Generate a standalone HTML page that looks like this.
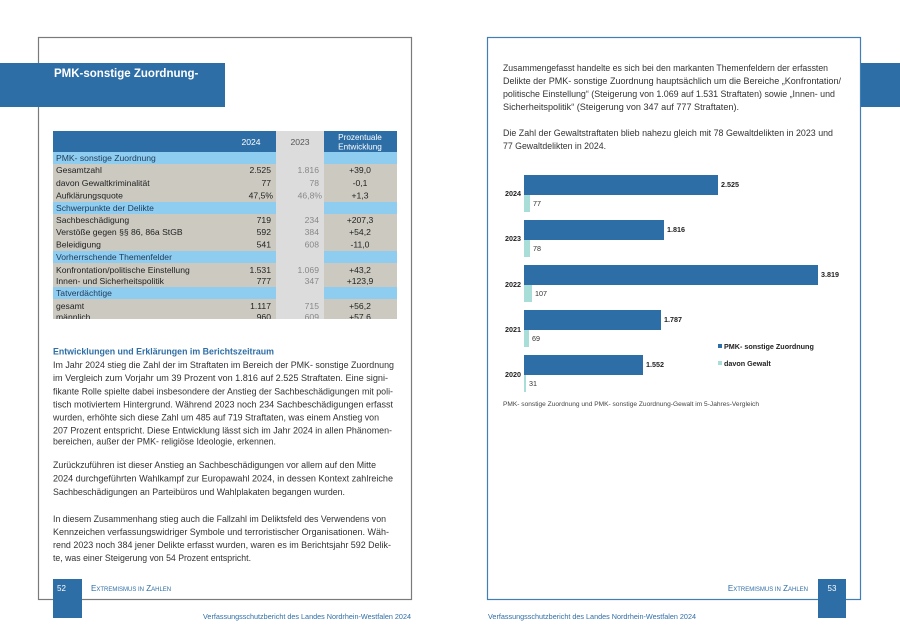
<!DOCTYPE html>
<html><head><meta charset="utf-8"><style>
html,body{margin:0;padding:0;background:#fff}
svg{display:block}
text{font-family:"Liberation Sans",sans-serif}
</style></head><body>
<svg width="900" height="638" viewBox="0 0 900 638" xmlns="http://www.w3.org/2000/svg">
<rect width="900" height="638" fill="#fff"/>
<!-- left frame -->
<rect x="38.5" y="37.5" width="373" height="562" fill="none" stroke="#7a7a7a" stroke-width="1.2"/>
<rect x="0" y="63" width="225" height="44" fill="#2e6ea6"/>
<text x="54" y="77" font-size="11.5" font-weight="bold" fill="#fff">PMK-sonstige Zuordnung-</text>
<!-- right frame -->
<rect x="487.5" y="37.5" width="373" height="562" fill="none" stroke="#3f7fb5" stroke-width="1.2"/>
<rect x="861" y="63" width="39" height="44" fill="#2e6ea6"/>

<!-- table -->
<g font-size="8.6" fill="#222">
<rect x="53" y="131" width="344" height="188" fill="#cbc9c0"/>
<rect x="53" y="131" width="344" height="21" fill="#2e6ea6"/>
<rect x="276" y="131" width="48" height="188" fill="#dcdcdc"/>
<rect x="53" y="152" width="223" height="12" fill="#8ecdf0"/><rect x="324" y="152" width="73" height="12" fill="#8ecdf0"/>
<rect x="53" y="202" width="223" height="12" fill="#8ecdf0"/><rect x="324" y="202" width="73" height="12" fill="#8ecdf0"/>
<rect x="53" y="251" width="223" height="12" fill="#8ecdf0"/><rect x="324" y="251" width="73" height="12" fill="#8ecdf0"/>
<rect x="53" y="287" width="223" height="12" fill="#8ecdf0"/><rect x="324" y="287" width="73" height="12" fill="#8ecdf0"/>
<text x="251" y="145" fill="#fff" text-anchor="middle">2024</text>
<text x="300" y="145" fill="#555" text-anchor="middle">2023</text>
<text x="360" y="140" fill="#fff" text-anchor="middle" font-size="8.2">Prozentuale</text>
<text x="360" y="149.5" fill="#fff" text-anchor="middle" font-size="8.2">Entwicklung</text>
<g fill="#1e3a5a">
<text x="56" y="161">PMK- sonstige Zuordnung</text>
<text x="56" y="211">Schwerpunkte der Delikte</text>
<text x="56" y="260">Vorherrschende Themenfelder</text>
<text x="56" y="296">Tatverdächtige</text>
</g>
<g>
<text x="56" y="173">Gesamtzahl</text>
<text x="56" y="186">davon Gewaltkriminalität</text>
<text x="56" y="198.5">Aufklärungsquote</text>
<text x="56" y="223">Sachbeschädigung</text>
<text x="56" y="235">Verstöße gegen §§ 86, 86a StGB</text>
<text x="56" y="247.5">Beleidigung</text>
<text x="56" y="273">Konfrontation/politische Einstellung</text>
<text x="56" y="284">Innen- und Sicherheitspolitik</text>
<text x="56" y="309">gesamt</text>
<text x="56" y="320">männlich</text>
</g>
<g text-anchor="end">
<text x="271" y="173">2.525</text><text x="271" y="186">77</text><text x="273" y="198.5">47,5%</text>
<text x="271" y="223">719</text><text x="271" y="235">592</text><text x="271" y="247.5">541</text>
<text x="271" y="273">1.531</text><text x="271" y="284">777</text>
<text x="271" y="309">1.117</text><text x="271" y="320">960</text>
</g>
<g text-anchor="end" fill="#888">
<text x="319" y="173">1.816</text><text x="319" y="186">78</text><text x="322" y="198.5">46,8%</text>
<text x="319" y="223">234</text><text x="319" y="235">384</text><text x="319" y="247.5">608</text>
<text x="319" y="273">1.069</text><text x="319" y="284">347</text>
<text x="319" y="309">715</text><text x="319" y="320">609</text>
</g>
<g text-anchor="middle">
<text x="360" y="173">+39,0</text><text x="360" y="186">-0,1</text><text x="360" y="198.5">+1,3</text>
<text x="360" y="223">+207,3</text><text x="360" y="235">+54,2</text><text x="360" y="247.5">-11,0</text>
<text x="360" y="273">+43,2</text><text x="360" y="284">+123,9</text>
<text x="360" y="309">+56,2</text><text x="360" y="320">+57,6</text>
</g>
<rect x="53" y="319" width="345" height="8" fill="#fff"/>
</g>

<!-- left body -->
<text x="53" y="354.5" font-size="9.2" font-weight="bold" fill="#2e6ea6" textLength="221" lengthAdjust="spacingAndGlyphs">Entwicklungen und Erklärungen im Berichtszeitraum</text>
<g font-size="9" fill="#333" lengthAdjust="spacingAndGlyphs">
<text x="53" y="368" textLength="341" lengthAdjust="spacingAndGlyphs">Im Jahr 2024 stieg die Zahl der im Straftaten im Bereich der PMK- sonstige Zuordnung</text>
<text x="53" y="381" textLength="335" lengthAdjust="spacingAndGlyphs">im Vergleich zum Vorjahr um 39 Prozent von 1.816 auf 2.525 Straftaten. Eine signi-</text>
<text x="53" y="394.5" textLength="340" lengthAdjust="spacingAndGlyphs">fikante Rolle spielte dabei insbesondere der Anstieg der Sachbeschädigungen mit poli-</text>
<text x="53" y="407.5" textLength="340" lengthAdjust="spacingAndGlyphs">tisch motiviertem Hintergrund. Während 2023 noch 234 Sachbeschädigungen erfasst</text>
<text x="53" y="420.5" textLength="326" lengthAdjust="spacingAndGlyphs">wurden, erhöhte sich diese Zahl um 485 auf 719 Straftaten, was einem Anstieg von</text>
<text x="53" y="433.5" textLength="339" lengthAdjust="spacingAndGlyphs">207 Prozent entspricht. Diese Entwicklung lässt sich im Jahr 2024 in allen Phänomen-</text>
<text x="53" y="444.5" textLength="223" lengthAdjust="spacingAndGlyphs">bereichen, außer der PMK- religiöse Ideologie, erkennen.</text>
<text x="53" y="468" textLength="323" lengthAdjust="spacingAndGlyphs">Zurückzuführen ist dieser Anstieg an Sachbeschädigungen vor allem auf den Mitte</text>
<text x="53" y="481.5" textLength="340" lengthAdjust="spacingAndGlyphs">2024 durchgeführten Wahlkampf zur Europawahl 2024, in dessen Kontext zahlreiche</text>
<text x="53" y="495" textLength="292" lengthAdjust="spacingAndGlyphs">Sachbeschädigungen an Parteibüros und Wahlplakaten begangen wurden.</text>
<text x="53" y="522" textLength="333" lengthAdjust="spacingAndGlyphs">In diesem Zusammenhang stieg auch die Fallzahl im Deliktsfeld des Verwendens von</text>
<text x="53" y="535" textLength="336" lengthAdjust="spacingAndGlyphs">Kennzeichen verfassungswidriger Symbole und terroristischer Organisationen. Wäh-</text>
<text x="53" y="548" textLength="338" lengthAdjust="spacingAndGlyphs">rend 2023 noch 384 jener Delikte erfasst wurden, waren es im Berichtsjahr 592 Delik-</text>
<text x="53" y="561" textLength="198" lengthAdjust="spacingAndGlyphs">te, was einer Steigerung von 54 Prozent entspricht.</text>
</g>

<!-- right body -->
<g font-size="9" fill="#333">
<text x="503" y="71" textLength="325" lengthAdjust="spacingAndGlyphs">Zusammengefasst handelte es sich bei den markanten Themenfeldern der erfassten</text>
<text x="503" y="84" textLength="338" lengthAdjust="spacingAndGlyphs">Delikte der PMK- sonstige Zuordnung hauptsächlich um die Bereiche „Konfrontation/</text>
<text x="503" y="97" textLength="332" lengthAdjust="spacingAndGlyphs">politische Einstellung“ (Steigerung von 1.069 auf 1.531 Straftaten) sowie „Innen- und</text>
<text x="503" y="110" textLength="236" lengthAdjust="spacingAndGlyphs">Sicherheitspolitik“ (Steigerung von 347 auf 777 Straftaten).</text>
<text x="503" y="136" textLength="330" lengthAdjust="spacingAndGlyphs">Die Zahl der Gewaltstraftaten blieb nahezu gleich mit 78 Gewaltdelikten in 2023 und</text>
<text x="503" y="149" textLength="103" lengthAdjust="spacingAndGlyphs">77 Gewaltdelikten in 2024.</text>
</g>

<!-- chart -->
<g font-size="7.2">
<g fill="#2e6ea6">
<rect x="524" y="175" width="194" height="20"/>
<rect x="524" y="220" width="140" height="20"/>
<rect x="524" y="265" width="294" height="20"/>
<rect x="524" y="310" width="137" height="20"/>
<rect x="524" y="355" width="119" height="20"/>
</g>
<g fill="#a8ddd8">
<rect x="524" y="195" width="6" height="17"/>
<rect x="524" y="240" width="6" height="17"/>
<rect x="524" y="285" width="8" height="17"/>
<rect x="524" y="330" width="5" height="17"/>
<rect x="524" y="375" width="2" height="17"/>
</g>
<g fill="#222" font-weight="bold" text-anchor="end">
<text x="521" y="196">2024</text><text x="521" y="241">2023</text><text x="521" y="287">2022</text><text x="521" y="332">2021</text><text x="521" y="377">2020</text>
</g>
<g fill="#222" font-weight="bold">
<text x="721" y="187">2.525</text><text x="667" y="232">1.816</text><text x="821" y="277">3.819</text><text x="664" y="322">1.787</text><text x="646" y="367">1.552</text>
</g>
<g fill="#333">
<text x="533" y="206">77</text><text x="533" y="251">78</text><text x="535" y="296">107</text><text x="532" y="341">69</text><text x="529" y="386">31</text>
</g>
<rect x="718" y="344" width="4" height="4" fill="#2e6ea6"/>
<text x="724" y="349" font-weight="bold" fill="#222">PMK- sonstige Zuordnung</text>
<rect x="718" y="361" width="4" height="4" fill="#a8ddd8"/>
<text x="724" y="366" font-weight="bold" fill="#222">davon Gewalt</text>
<text x="503" y="406" font-size="6.8" fill="#444" textLength="256" lengthAdjust="spacingAndGlyphs">PMK- sonstige Zuordnung und PMK- sonstige Zuordnung-Gewalt im 5-Jahres-Vergleich</text>
</g>

<!-- footers -->
<rect x="53" y="579" width="29" height="39" fill="#2e6ea6"/>
<text x="57" y="591" font-size="8" fill="#fff">52</text>
<text x="91" y="591" font-size="8" fill="#2e6ea6">E<tspan font-size="6">XTREMISMUS IN</tspan> Z<tspan font-size="6">AHLEN</tspan></text>
<text x="411" y="619" font-size="7.5" fill="#2e6ea6" text-anchor="end" textLength="208" lengthAdjust="spacingAndGlyphs">Verfassungsschutzbericht des Landes Nordrhein-Westfalen 2024</text>
<rect x="818" y="579" width="28" height="39" fill="#2e6ea6"/>
<text x="832" y="591" font-size="8" fill="#fff" text-anchor="middle">53</text>
<text x="808" y="591" font-size="8" fill="#2e6ea6" text-anchor="end">E<tspan font-size="6">XTREMISMUS IN</tspan> Z<tspan font-size="6">AHLEN</tspan></text>
<text x="488" y="619" font-size="7.5" fill="#2e6ea6" textLength="208" lengthAdjust="spacingAndGlyphs">Verfassungsschutzbericht des Landes Nordrhein-Westfalen 2024</text>
</svg>
</body></html>
